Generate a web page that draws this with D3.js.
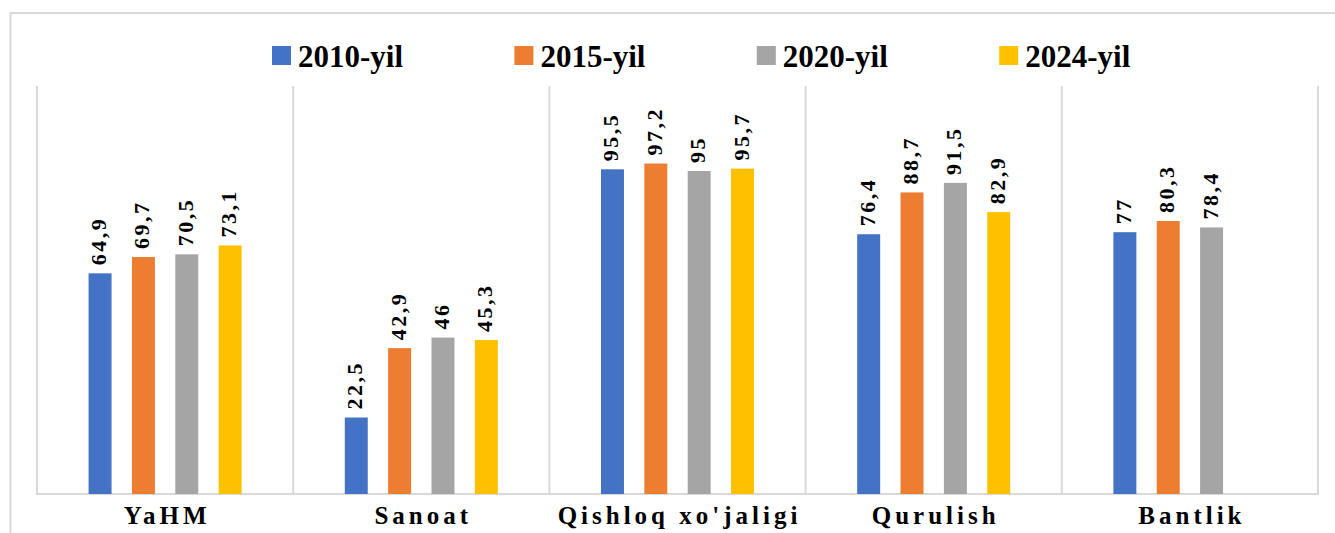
<!DOCTYPE html>
<html>
<head>
<meta charset="utf-8">
<script src="https://cdn.jsdelivr.net/npm/d3@7"></script>
</head>
<body style="margin:0">
<div id="chart"></div>
<script>
// data
var categories = ["YaHM", "Sanoat", "Qishloq xo'jaligi", "Qurulish", "Bantlik"];
var seriesNames = ["2010-yil", "2015-yil", "2020-yil", "2024-yil"];
var v2010 = [64.9, 22.5, 95.5, 76.4, 77];
var v2015 = [69.7, 42.9, 97.2, 88.7, 80.3];
var v2020 = [70.5, 46, 95, 91.5, 78.4];
var v2024 = [73.1, 45.3, 95.7, 82.9, null];
var colors = ["#4472C4", "#ED7D31", "#A5A5A5", "#FFC000"];

(function(){
	var width = 1335,
		height = 533;
	var grid = "#d9d9d9";

	var svg = d3.select("#chart")
		.append("svg")
		.attr("width", width)
		.attr("height", height)
		.attr("font-family", "serif")
		.attr("font-weight", "bold")

	// outer frame
	svg.append("rect")
		.attr("x", 10.5)
		.attr("y", 13)
		.attr("width", width)
		.attr("height", height)
		.attr("fill", "none")
		.attr("stroke", grid)
		.attr("stroke-width", 2)

	var x0 = d3.scaleBand().domain(categories).range([37, 1318])
	var x1 = d3.scaleBand().domain(seriesNames).range([0, x0.bandwidth()])
		.paddingInner(0.47).paddingOuter(1.19)
	var y = d3.scaleLinear().domain([0, 120]).range([494, 86])

	var allValues = [v2010, v2015, v2020, v2024];
	var rows = [];
	categories.forEach(function(c, i){
		seriesNames.forEach(function(s, j){
			var v = allValues[j][i];
			if (v != null) rows.push({cat: c, series: s, idx: j, value: v});
		})
	})

	// vertical separators between categories
	var seps = categories.map(function(c){ return x0(c) }).concat([x0.range()[1]]);
	svg.selectAll(".sep")
		.data(seps)
		.enter().append("line")
		.attr("x1", function(d){ return d })
		.attr("x2", function(d){ return d })
		.attr("y1", y(120))
		.attr("y2", y(0))
		.attr("stroke", grid)
		.attr("stroke-width", 2)

	svg.append("line")
		.attr("x1", x0.range()[0] - 1)
		.attr("x2", x0.range()[1] + 1)
		.attr("y1", y(0))
		.attr("y2", y(0))
		.attr("stroke", grid)
		.attr("stroke-width", 2)

	// bars
	svg.selectAll("rect.bar")
		.data(rows)
		.enter().append("rect")
		.attr("class", "bar")
		.attr("x", function(d){ return x0(d.cat) + x1(d.series) })
		.attr("width", x1.bandwidth())
		.attr("y", function(d){ return y(d.value) })
		.attr("height", function(d){ return y(0) - y(d.value) })
		.attr("fill", function(d){ return colors[d.idx] })

	// value labels, rotated, comma decimals
	var fmt = function(v){ return String(v).replace(".", ",") };
	svg.selectAll("text.val")
		.data(rows)
		.enter().append("text")
		.attr("class", "val")
		.attr("transform", function(d){
			var cx = x0(d.cat) + x1(d.series) + x1.bandwidth() / 2 + 6;
			return "translate(" + cx + "," + (y(d.value) - 8) + ") rotate(-90)";
		})
		.attr("font-family", "serif")
		.attr("font-size", 22)
		.attr("letter-spacing", 2.5)
		.attr("fill", "#000")
		.text(function(d){ return fmt(d.value) })

	// category labels
	svg.selectAll("text.cat")
		.data(categories)
		.enter().append("text")
		.attr("class", "cat")
		.attr("x", function(d){ return x0(d) + x0.bandwidth() / 2 + 2 })
		.attr("y", 524)
		.attr("text-anchor", "middle")
		.attr("font-family", "serif")
		.attr("font-size", 25)
		.attr("letter-spacing", 4)
		.attr("fill", "#000")
		.text(function(d){ return d })

	// legend
	var legend = svg.selectAll("g.legend")
		.data(seriesNames)
		.enter().append("g")
		.attr("class", "legend")
		.attr("transform", function(d, i){ return "translate(" + (272 + i * 242.4) + ",46)" })

	legend.append("rect")
		.attr("width", 19)
		.attr("height", 19)
		.attr("fill", function(d, i){ return colors[i] })

	legend.append("text")
		.attr("x", 26)
		.attr("y", 21)
		.attr("font-family", "serif")
		.attr("font-size", 31)
		.attr("fill", "#000")
		.text(function(d){ return d })
})();
</script>
</body>
</html>
